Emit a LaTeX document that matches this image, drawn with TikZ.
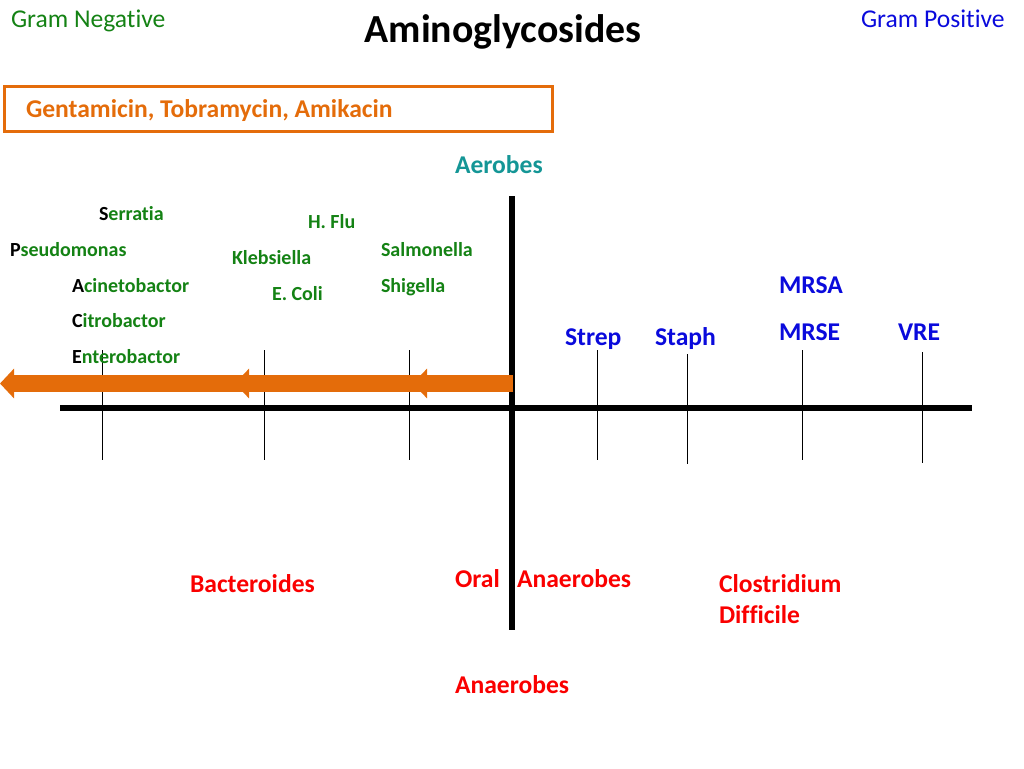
\documentclass[tikz,border=0pt]{standalone}
\usepackage{fontspec}
\setmainfont{Carlito}[Ligatures=NoCommon]
\usetikzlibrary{arrows.meta}
\definecolor{gnc}{RGB}{20,130,20}
\definecolor{gpc}{RGB}{10,10,220}
\definecolor{orc}{RGB}{228,108,10}
\definecolor{tlc}{RGB}{20,150,150}
\definecolor{rdc}{RGB}{250,0,0}
\tikzset{
  lbl/.style={anchor=base west, inner sep=0pt, outer sep=0pt},
  spec/.style={lbl, font=\fontsize{20}{24}\selectfont\bfseries, text=gnc},
  big/.style={lbl, font=\fontsize{25.6}{30}\selectfont\bfseries},
  axis/.style={line width=5.5pt, black},
  tick/.style={line width=1pt, black},
  oarrow/.style={line width=17pt, orc, -{Triangle[length=14pt,width=29pt]}},
}
\begin{document}
\begin{tikzpicture}[x=1pt,y=-1pt]
\useasboundingbox (0,0) rectangle (1024,768);
% header
\node[lbl, font=\fontsize{25.6}{30}\selectfont, text=gnc] (gneg) at (11,28) {Gram Negative};
\node[lbl, font=\fontsize{25.6}{30}\selectfont, text=gpc] (gpos) at (861,28) {Gram Positive};
\node[anchor=base, inner sep=0pt, font=\fontsize{39.8}{44}\selectfont\bfseries] (title) at (503,42) {Aminoglycosides};
% box
\node[draw=orc, line width=3pt, minimum width=548pt, minimum height=45pt, anchor=north west, inner sep=0pt] (box) at (3,85) {};
\node[big, text=orc] (drugs) at (26,117) {Gentamicin, Tobramycin, Amikacin};
\node[big, text=tlc] (aer) at (455,173) {Aerobes};
% axes
\coordinate (hl) at (60,408); \coordinate (hr) at (972,408);
\coordinate (vt) at (512,196); \coordinate (vb) at (512,630);
\draw[axis] (hl) -- (hr);
\draw[axis] (vt) -- (vb);
% ticks
\foreach \n/\x/\a/\b in {t1/102/350/460, t2/264/350/460, t3/409/350/460, t4/597/350/460, t5/687/354/464, t6/802/350/460, t7/922/352/463}{
  \coordinate (\n a) at (\x,\a); \coordinate (\n b) at (\x,\b);
  \draw[tick] (\n a) -- (\n b);
}
% orange arrows
\coordinate (o0) at (513,383.5); \coordinate (o1) at (413,383.5);
\coordinate (o2) at (235,383.5); \coordinate (o3) at (0,383.5);
\draw[oarrow] (o0) -- (o3);
\draw[oarrow] (o0) -- (o2);
\draw[oarrow] (o0) -- (o1);
% gram negative species
\node[spec] (ser) at (99,220) {\textcolor{black}{S}erratia};
\node[spec] (pse) at (10,256) {\textcolor{black}{P}seudomonas};
\node[spec] (aci) at (72,292) {\textcolor{black}{A}cinetobactor};
\node[spec] (cit) at (72,327) {\textcolor{black}{C}itrobactor};
\node[spec] (ent) at (72,363) {\textcolor{black}{E}nterobactor};
\node[spec] (hfl) at (308,228) {H. Flu};
\node[spec] (kle) at (232,264) {Klebsiella};
\node[spec] (eco) at (272,300) {E. Coli};
\node[spec] (sal) at (381,256) {Salmonella};
\node[spec] (shi) at (381,292) {Shigella};
% gram positive
\node[big, text=gpc] (str) at (565,345) {Strep};
\node[big, text=gpc] (sta) at (655,345) {Staph};
\node[big, text=gpc] (mrsa) at (779,293) {MRSA};
\node[big, text=gpc] (mrse) at (779,340) {MRSE};
\node[big, text=gpc] (vre) at (898,340) {VRE};
% anaerobes
\node[big, text=rdc] (bac) at (190,592) {Bacteroides};
\node[big, text=rdc] (oral) at (455,587) {Oral};
\node[big, text=rdc] (oana) at (517,587) {Anaerobes};
\node[big, text=rdc] (clo) at (719,592) {Clostridium};
\node[big, text=rdc] (dif) at (719,623) {Difficile};
\node[big, text=rdc] (ana) at (455,693) {Anaerobes};
\end{tikzpicture}
\end{document}
